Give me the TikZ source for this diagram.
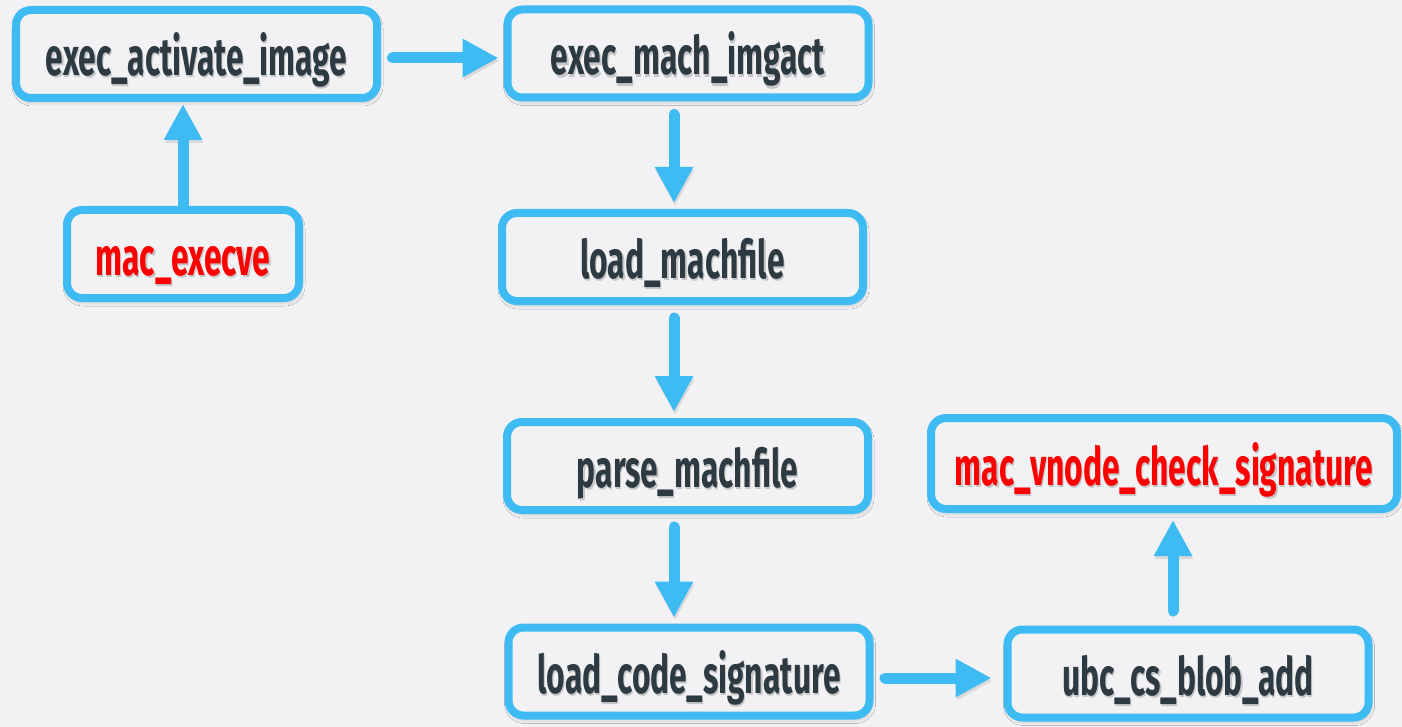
\documentclass[tikz,border=0pt]{standalone}
\usepackage{fontspec}
\newfontfamily\boxfont{Fira Sans}[FakeStretch=0.6]
\usetikzlibrary{arrows.meta,shadows.blur}
\definecolor{bg}{HTML}{F2F2F4}
\definecolor{flowblue}{HTML}{3EBBF2}
\definecolor{ink}{HTML}{2E3A42}
\definecolor{alert}{HTML}{FF0000}
% soft offset copy behind the label text
\newcommand\shadowed[1]{\makebox[0pt][l]{\raisebox{-1.2pt}{\hspace{0.6pt}\textcolor{black!18!bg}{#1}}}#1}
\begin{document}
\begin{tikzpicture}[x=0.5pt,y=-0.5pt,
  fbox/.style={draw=flowblue, line width=4pt, rounded corners=7.5pt, fill=bg,
    minimum width=180.5pt, minimum height=44pt, inner sep=0pt, text=ink,
    text height=26pt, text depth=4.5pt,
    font=\boxfont\bfseries\fontsize{26.5}{30}\selectfont,
    blur shadow={shadow xshift=0.5pt, shadow yshift=-1.5pt,
      shadow blur radius=2.5pt, shadow opacity=30}},
  hot/.style={text=alert},
  flow/.style={draw=flowblue, line width=5.5pt, line cap=round,
    -{Triangle[length=18pt,width=18pt]},
    preaction={draw=black, opacity=0.10,
      transform canvas={xshift=0.5pt, yshift=-1.5pt}}},
  vflow/.style={flow, shorten <=6.5pt, shorten >=3pt},
]
\path[use as bounding box, fill=bg] (0,0) rectangle (1402,727);

\node[fbox] (ea) at (196.5,54) {\shadowed{exec\_activate\_image}};
\node[fbox] (em) at (688,53.5) {\shadowed{exec\_mach\_imgact}};
\node[fbox, hot, minimum width=116pt] (me) at (183,254) {\shadowed{mac\_execve}};
\node[fbox] (lm) at (682.5,257) {\shadowed{load\_machfile}};
\node[fbox] (pm) at (687.5,466) {\shadowed{parse\_machfile}};
\node[fbox, hot, minimum width=233pt, minimum height=45.5pt] (mv) at (1164,463.5) {\shadowed{mac\_vnode\_check\_signature}};
\node[fbox] (lc) at (689,671.5) {\shadowed{load\_code\_signature}};
\node[fbox] (ub) at (1188,673.5) {\shadowed{ubc\_cs\_blob\_add}};

\draw[flow, shorten <=5.75pt, shorten >=2.5pt]
  ([yshift=-2pt]ea.east) -- ([yshift=-2pt]ea.east -| em.west);
\draw[flow, shorten <=0.75pt, shorten >=1pt]
  (me.north) -- (me.north |- ea.south);
\draw[vflow] ([xshift=-7pt]em.south) -- ([xshift=-7pt]em.south |- lm.north);
\draw[vflow] ([xshift=-4.25pt]lm.south) -- ([xshift=-4.25pt]lm.south |- pm.north);
\draw[vflow] ([xshift=-6.75pt]pm.south) -- ([xshift=-6.75pt]pm.south |- lc.north);
\draw[flow, shorten <=5.75pt, shorten >=6pt]
  ([yshift=-3.25pt]lc.east) -- ([yshift=-3.25pt]lc.east -| ub.west);
\draw[flow, shorten <=7.25pt, shorten >=3.5pt]
  ([xshift=-7.5pt]ub.north) -- ([xshift=-7.5pt]ub.north |- mv.south);
\end{tikzpicture}
\end{document}
